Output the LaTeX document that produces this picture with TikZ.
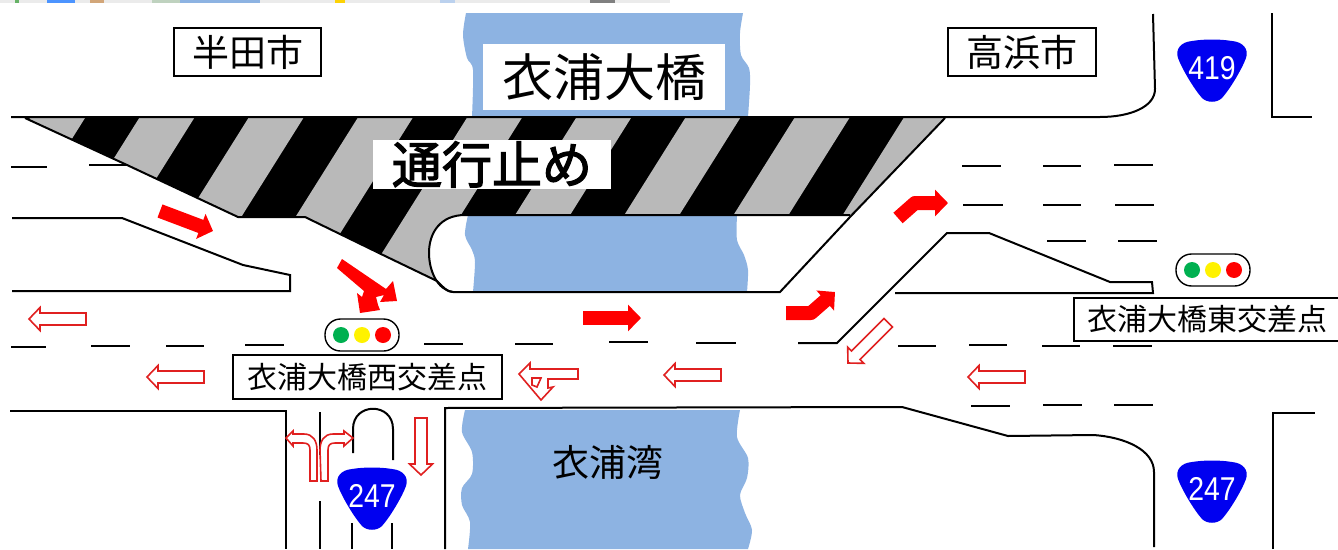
\documentclass[tikz,border=0pt]{standalone}
\usepackage{fontspec}
\setmainfont{Liberation Sans}
\newfontfamily\cjk{Noto Sans CJK JP}
\newfontfamily\cjkheavy[FakeBold=2.5]{Noto Sans CJK JP}
\usetikzlibrary{arrows.meta}
\definecolor{bay}{HTML}{8DB3E2}
\definecolor{stripe}{HTML}{B9B9B9}
\definecolor{route}{HTML}{0000F0}
\definecolor{openred}{HTML}{E02020}
\definecolor{signalgreen}{HTML}{00B050}
\tikzset{
road/.style={draw=black, line width=2pt},
laneline/.style={draw=black, line width=1.8pt},
namebox/.style={draw=black, fill=white, line width=1.2pt, inner sep=0pt},
whitebox/.style={fill=white, inner sep=0pt},
flow/.style={draw=red, line width=14pt, line join=round, -{Triangle[length=13pt,width=26pt]}},
openflow/.style={draw=openred, fill=white, line width=1.6pt, line join=miter},
shield/.pic={
	\fill[route] (-20,-30) .. controls (-8,-32) and (8,-32) .. (20,-30) .. controls (31,-29) and (37,-22) .. (34,-13)
		.. controls (30,-2) and (18,18) .. (10,27) .. controls (5,32) and (-5,32) .. (-10,27)
		.. controls (-18,18) and (-30,-2) .. (-34,-13) .. controls (-37,-22) and (-31,-29) .. (-20,-30) -- cycle;
	\node[text=white, xscale=.86, transform shape, font=\fontsize{33}{33}\selectfont] (-num) at (0,-3) {#1};
},
signal/.pic={
	\draw[line width=1.4pt, fill=white, rounded corners=15.5pt] (-37,-16) rectangle (37,16);
	\fill[signalgreen] (-21,0) circle (8);
	\fill[yellow] (0,0) circle (8);
	\fill[red] (21,0) circle (8);
},
}
% outlined straight arrow: x, y of the tip, length, direction of the tail
\newcommand{\openarrow}[4]{
	\draw[openflow, shift={(#1,#2)}, rotate=#4] (0,0) -- (11,-11.5) -- (11,-6) -- (#3,-6) -- (#3,6) -- (11,6) -- (11,11.5) -- cycle;
}
\begin{document}
\begin{tikzpicture}[x=1pt, y=-1pt]
	\useasboundingbox (0,0) rectangle (1338,549);
	% strip of another image along the top
	\fill[black!8] (0,0) rectangle (670,3);
	\fill[green!50!black!60] (15,0) rectangle (19,3);
	\fill[blue!60!cyan!70] (47,0) rectangle (75,3);
	\fill[brown!70] (90,0) rectangle (104,3);
	\fill[green!30!black!25] (152,0) rectangle (180,3);
	\fill[bay] (180,0) rectangle (260,3);
	\fill[yellow!70!orange] (335,0) rectangle (345,3);
	\fill[bay!60] (440,0) rectangle (455,3);
	\fill[black!50] (590,0) rectangle (615,3);

	% the bay
	\fill[bay] plot[smooth] coordinates {(466,13) (463,35) (467,58) (473,70) (472,117)} -- plot[smooth] coordinates {(748,117) (750,85) (749,68) (741,55) (740,33) (743,13)} -- cycle;
	\fill[bay] plot[smooth] coordinates {(468,215) (465,235) (472,250) (475,262) (473,292)} -- plot[smooth] coordinates {(747,292) (748,270) (744,255) (737,240) (737,215)} -- cycle;
	\fill[bay] plot[smooth] coordinates {(465,410) (462,432) (472,452) (472,474) (462,488) (462,505) (470,522) (468,549)} -- plot[smooth] coordinates {(748,549) (752,530) (745,513) (740,495) (747,478) (748,458) (737,437) (740,410)} -- cycle;

	% closed carriageway
	\begin{scope}
		\clip (25,118) -- (127,165) -- (238,217) -- (305,217) -- (383,255) -- (437,281) .. controls (431,273) and (429,263) .. (429,253) .. controls (429,232) and (441,215) .. (465,215) -- (850,215) -- (945,118) -- cycle;
		\fill[black] (0,100) rectangle (960,300);
		\foreach \k in {0,...,8} {
			\fill[stripe] ({30+109.2*\k},118) -- ({85+109.2*\k},118) -- ({85+109.2*\k-113},298) -- ({30+109.2*\k-113},298) -- cycle;
		}
		\fill[stripe] (420,262) rectangle (445,290);
	\end{scope}

	% road edges
	\draw[road] (11,117) -- (1100,117) .. controls (1130,117) and (1155,107) .. (1155,89) -- (1153,14);
	\draw[road] (1272,13) -- (1272,117) -- (1312,117);
	\draw[road] (25,118) -- (127,165) -- (238,217) -- (305,217) -- (383,255) -- (437,281) .. controls (443,287) and (447,292) .. (453,292) -- (780,292) -- (850,217) -- (945,118);
	\draw[road] (453,292) .. controls (437,290) and (429,270) .. (429,253) .. controls (429,232) and (441,215) .. (465,215) -- (850,215);
	\draw[road] (12,218) -- (122,218) -- (243,265) -- (290,275) -- (290,291) -- (12,291);
	\draw[road] (798,343) -- (837,343) -- (947,233) -- (989,233) -- (1110,282) -- (1152,282) -- (1153,293) -- (895,293);
	\draw[road] (10,411) -- (286,411) -- (286,549);
	\draw[road] (445,549) -- (445,408) -- (902,407) -- (1008,436) -- (1093,435) .. controls (1125,437) and (1154,450) .. (1154,472) -- (1154,547);
	\draw[road] (1273,549) -- (1273,413) -- (1315,413);
	\draw[road] (353,453) -- (353,429) .. controls (353,402) and (393,402) .. (393,429) -- (393,460);
	\draw[road] (352,523) -- (352,549);
	\draw[road] (392,523) -- (392,549);
	\draw[road] (320,412) -- (320,455);
	\draw[road] (320,501) -- (320,549);

	% lane markings
	\foreach \xa/\xb/\yy in {11/47/167, 89/127/165, 11/46/347, 91/130/346, 166/204/346, 245/284/345, 424/463/344, 515/553/344, 609/648/342, 696/736/343,
		962/1001/166, 1043/1081/166, 1114/1153/165, 963/1003/205, 1043/1081/205, 1115/1154/205, 1047/1086/241, 1118/1157/241,
		898/936/346, 969/1007/345, 1042/1080/346, 1113/1152/346, 971/1010/406, 1043/1082/405, 1114/1153/405} {
		\draw[laneline] (\xa,\yy) -- (\xb,\yy);
	}

	% solid flow arrows
	\draw[flow] (160,211) -- (213,231);
	\draw[flow] (583,318) -- (641,318);
	\draw[flow] (786,313) -- (811,313) -- (835,292);
	\draw[flow] (898,218) -- (915,203) -- (948,203);
	\fill[red] (342,259) -- (386,289) -- (393,281) -- (397,301) -- (380,302) -- (384,295) -- (376,297) -- (378,305) -- (380,310) -- (360,313) -- (357,293) -- (362,297) -- (364,291) -- (337,268) -- cycle;

	% open flow arrows
	\foreach \xx/\yy in {29/319, 147/377, 664/375, 968/377} {
		\openarrow{\xx}{\yy}{57}{0}
	}
	\openarrow{848}{363}{57}{45}
	\openarrow{421}{475}{57}{90}
	\draw[openflow] (321,481) -- (328,481) -- (328,450) .. controls (328,445) and (330,443) .. (335,443) -- (344,443) -- (344,446) -- (353,438) -- (344,431) -- (344,434) -- (333,434) .. controls (324,434) and (320,441) .. (320,450) -- cycle;
	\draw[openflow] (317,481) -- (310,481) -- (310,450) .. controls (310,445) and (308,443) .. (303,443) -- (293,443) -- (293,446) -- (286,438) -- (293,431) -- (293,434) -- (304,434) .. controls (313,434) and (317,441) .. (317,450) -- cycle;
	\draw[openflow] (578,369) -- (530,369) -- (530,363) -- (519,374) -- (541,400) -- (553,387) -- (548,388) -- (548,379) -- (578,379) -- cycle;
	\draw[openflow] (532,378) -- (541,378) -- (537,387) -- (532,385) -- cycle;

	% signals and route numbers
	\pic (signalwest) at (362,335) {signal};
	\pic (signaleast) at (1213,270) {signal};
	\pic (route419) at (1212,71) {shield=419};
	\pic (route247a) at (1212,492) {shield=247};
	\pic (route247b) at (372,499) {shield=247};

	% names
	\node[namebox, minimum width=147pt, minimum height=48pt, font=\cjk\fontsize{37}{37}\selectfont] (handa) at (247.5,52) {半田市};
	\node[namebox, minimum width=148pt, minimum height=48pt, font=\cjk\fontsize{37}{37}\selectfont] (takahama) at (1022,52) {高浜市};
	\node[whitebox, minimum width=242pt, minimum height=66pt, font=\cjk\fontsize{51}{51}\selectfont] (bridge) at (604,77) {衣浦大橋};
	\node[whitebox, minimum width=238pt, minimum height=49pt, font=\cjkheavy\fontsize{50}{50}\selectfont] (closed) at (492,164.5) {通行止め};
	\node[namebox, minimum width=269pt, minimum height=44pt, font=\cjk\fontsize{30}{30}\selectfont] (west) at (367.5,377) {衣浦大橋西交差点};
	\node[namebox, minimum width=267pt, minimum height=43pt, font=\cjk\fontsize{30}{30}\selectfont] (east) at (1207.5,319.5) {衣浦大橋東交差点};
	\node[inner sep=0pt, font=\cjk\fontsize{37}{37}\selectfont] (bayname) at (608,462) {衣浦湾};
\end{tikzpicture}
\end{document}
